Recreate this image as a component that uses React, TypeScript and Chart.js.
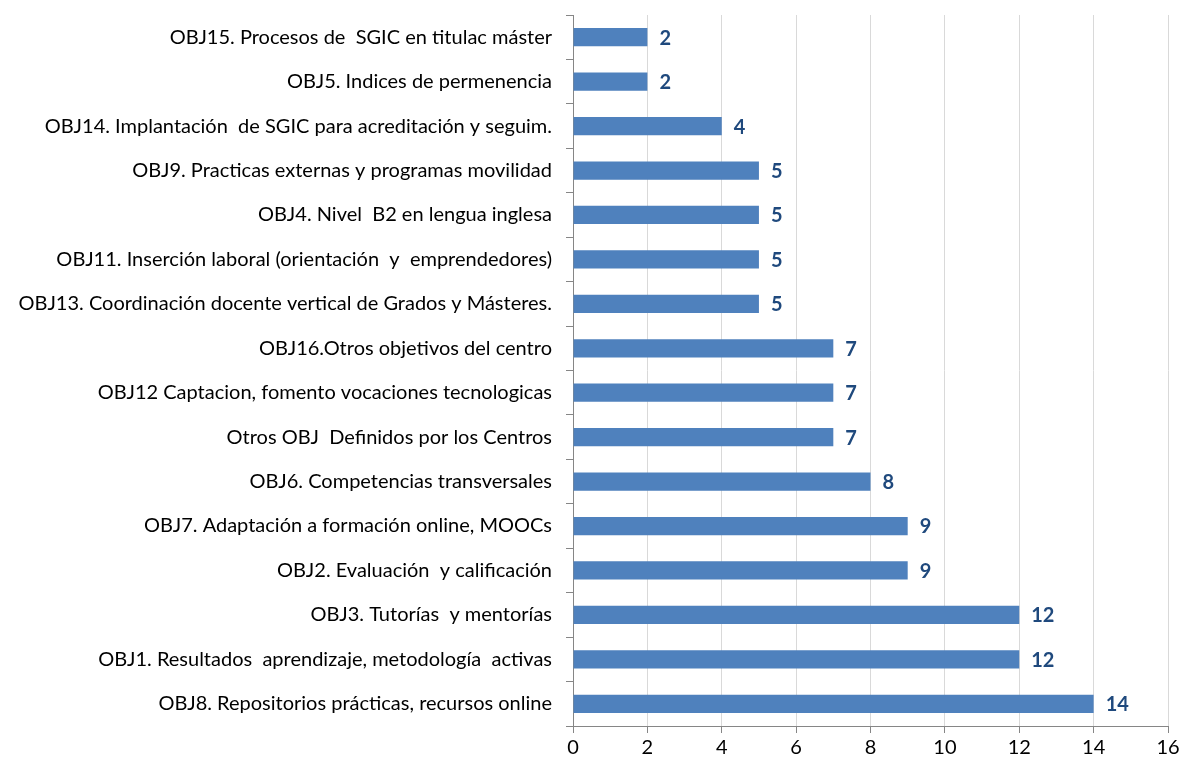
import React, { useEffect, useRef } from "react";
import { Chart, registerables } from "chart.js";

Chart.register(...registerables);

const categories = [
  "OBJ15. Procesos de  SGIC en titulac máster",
  "OBJ5. Indices de permenencia",
  "OBJ14. Implantación  de SGIC para acreditación y seguim.",
  "OBJ9. Practicas externas y programas movilidad",
  "OBJ4. Nivel  B2 en lengua inglesa",
  "OBJ11. Inserción laboral (orientación  y  emprendedores)",
  "OBJ13. Coordinación docente vertical de Grados y Másteres.",
  "OBJ16.Otros objetivos del centro",
  "OBJ12 Captacion, fomento vocaciones tecnologicas",
  "Otros OBJ  Definidos por los Centros",
  "OBJ6. Competencias transversales",
  "OBJ7. Adaptación a formación online, MOOCs",
  "OBJ2. Evaluación  y calificación",
  "OBJ3. Tutorías  y mentorías",
  "OBJ1. Resultados  aprendizaje, metodología  activas",
  "OBJ8. Repositorios prácticas, recursos online",
];

const values = [2, 2, 4, 5, 5, 5, 5, 7, 7, 7, 8, 9, 9, 12, 12, 14];

const xTicks = [0, 2, 4, 6, 8, 10, 12, 14, 16];

const FONT = "Lato, 'Noto Sans', sans-serif";

const valueLabels = {
  id: "valueLabels",
  afterDatasetsDraw(chart: any) {
    const ctx = chart.ctx;
    const meta = chart.getDatasetMeta(0);
    ctx.save();
    ctx.font = `bold 20px ${FONT}`;
    ctx.fillStyle = "#1F497D";
    ctx.textAlign = "left";
    ctx.textBaseline = "middle";
    meta.data.forEach((bar: any, i: number) => {
      ctx.fillText(String(chart.data.datasets[0].data[i]), bar.x + 12, bar.y + 1);
    });
    ctx.restore();
  },
};

export default function App() {
  const ref = useRef<HTMLCanvasElement>(null);

  useEffect(() => {
    if (!ref.current) return;
    const chart = new Chart(ref.current, {
      type: "bar",
      data: {
        labels: categories,
        datasets: [
          {
            data: values,
            backgroundColor: "#4F81BD",
            borderWidth: 0,
            barPercentage: 0.41,
            categoryPercentage: 1,
          },
        ],
      },
      options: {
        indexAxis: "y",
        responsive: false,
        animation: false,
        layout: { padding: { left: 0, right: 13, top: 7, bottom: 4 } },
        plugins: {
          legend: { display: false },
          tooltip: { enabled: false },
        },
        scales: {
          x: {
            min: 0,
            max: 16,
            afterBuildTicks: (scale: any) => {
              scale.ticks = xTicks.map((v) => ({ value: v }));
            },
            afterFit: (scale: any) => {
              scale.paddingRight = 0;
              scale.paddingLeft = 0;
            },
            grid: {
              color: "#D9D9D9",
              tickColor: "#868686",
              tickLength: 7,
              drawOnChartArea: true,
            },
            border: { color: "#868686", width: 1 },
            ticks: {
              color: "#000000",
              font: { family: FONT, size: 20 },
              padding: 3,
            },
          },
          y: {
            afterFit: (scale: any) => {
              scale.width = 565;
              scale.paddingTop = 0;
              scale.paddingBottom = 0;
            },
            grid: {
              offset: true,
              drawOnChartArea: false,
              tickColor: "#868686",
              tickLength: 7,
            },
            border: { color: "#868686", width: 1 },
            ticks: {
              color: "#000000",
              font: { family: FONT, size: 20 },
              padding: 14,
              autoSkip: false,
            },
          },
        },
      },
      plugins: [valueLabels],
    });
    return () => chart.destroy();
  }, []);

  return (
    <div style={{ position: "fixed", left: 8, top: 8, width: 1173, height: 759 }}>
      <canvas ref={ref} width={1173} height={759} />
    </div>
  );
}
